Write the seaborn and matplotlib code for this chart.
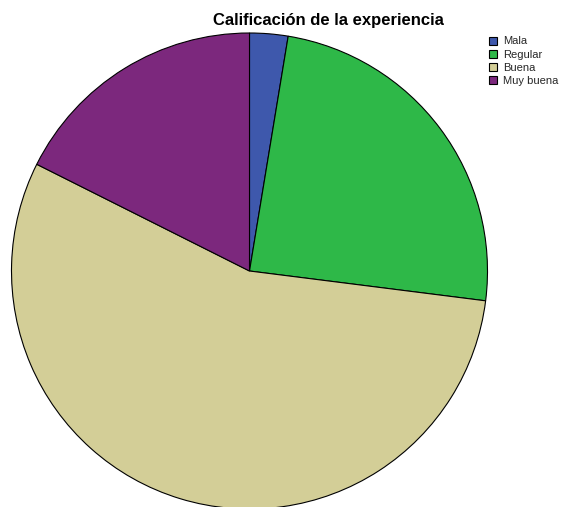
import matplotlib
matplotlib.use("Agg")
import matplotlib.pyplot as plt
import seaborn as sns

# Response categories and their share of answers (%)
categorias = ["Mala", "Regular", "Buena", "Muy buena"]
porcentajes = [2.6, 24.4, 55.4, 17.6]
colores = ["#3E58AC", "#2EB848", "#D3CE97", "#7C287D"]
titulo = "Calificación de la experiencia"

sns.set_theme(style="white")
plt.rcParams["font.family"] = ["Liberation Sans", "DejaVu Sans"]

W, H, DPI = 561, 507, 100
fig = plt.figure(figsize=(W / DPI, H / DPI), dpi=DPI)
fig.patch.set_facecolor("white")

# Pie axes: centre and radius in pixels
cx, cy, r = 249.5, 271.0, 238.0
ax = fig.add_axes([(cx - r) / W, (H - cy - r) / H, 2 * r / W, 2 * r / H])

palette = sns.color_palette(colores)
wedges, _ = ax.pie(
    porcentajes,
    colors=palette,
    startangle=90,
    counterclock=False,
    radius=1.0,
    wedgeprops=dict(edgecolor="black", linewidth=0.8),
)
for w in wedges:
    w.set_clip_on(False)
ax.set_xlim(-1, 1)
ax.set_ylim(-1, 1)
ax.set_aspect("equal")
ax.axis("off")

fig.text(328 / W, 1 - 20 / H, titulo, ha="center", va="center",
         fontsize=12, fontweight="bold", color="black")

leg = fig.legend(
    wedges, categorias,
    loc="upper left", bbox_to_anchor=(489 / W, 1 - 36.5 / H),
    frameon=False, fontsize=8,
    handlelength=0.75, handleheight=0.75, handletextpad=0.5,
    labelspacing=0.28, borderpad=0.0, borderaxespad=0.0,
)

fig.savefig("out.png", dpi=DPI)
